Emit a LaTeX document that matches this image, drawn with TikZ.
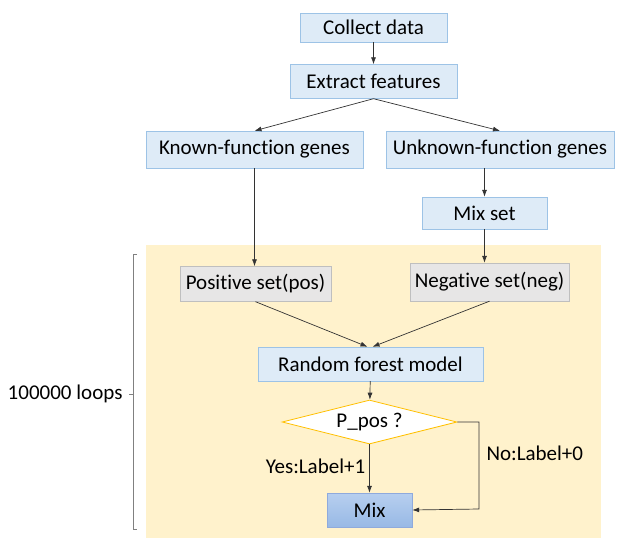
\documentclass[tikz,border=0pt]{standalone}
\usepackage{fontspec}
\setmainfont{Carlito}[Ligatures=NoCommon]
\usetikzlibrary{shapes.geometric,arrows.meta}

\definecolor{boxblue}{HTML}{DEEBF7}
\definecolor{lineblue}{HTML}{9DC3E6}
\definecolor{boxgray}{HTML}{E7E6E6}
\definecolor{linegray}{HTML}{BFBFBF}
\definecolor{loopbg}{HTML}{FFF2CC}
\definecolor{condline}{HTML}{FFC000}
\definecolor{mixtop}{HTML}{B7CFEF}
\definecolor{mixbot}{HTML}{98B9E5}
\definecolor{mixline}{HTML}{8FAADC}

\begin{document}
\begin{tikzpicture}[x=1pt,y=-1pt,
    font=\fontsize{21}{25}\selectfont,
    stepbox/.style={draw=lineblue,fill=boxblue,inner sep=0pt,minimum height=34pt},
    setbox/.style={draw=linegray,fill=boxgray,inner sep=0pt,minimum height=35pt},
    flow/.style={draw=black!80,line width=0.7pt,-{Latex[length=7pt,width=5pt]}}]
    \useasboundingbox (0,0) rectangle (620,540);

    % loop area and bracket
    \fill[loopbg] (146,245) rectangle (601,538);
    \draw[gray,line width=0.9pt] (137,254) -- (133,254) -- (133,529) -- (137,529);
    \draw[gray,line width=0.9pt] (133,394) -- (129,394);
    \node[anchor=east] (loops) at (126,394) {100000 loops};

    \node[stepbox,minimum width=147pt,minimum height=29pt] (collect) at (373.5,27.5) {Collect data};
    \node[stepbox,minimum width=167pt] (extract) at (373.5,81.5) {Extract features};
    \node[stepbox,minimum width=217pt,minimum height=37pt] (known) at (254.5,149.5) {Known-function genes};
    \node[stepbox,minimum width=228pt,minimum height=37pt] (unknown) at (500,149.5) {Unknown-function genes};
    \node[stepbox,minimum width=125pt,minimum height=32pt] (mixset) at (484.5,213) {Mix set};
    \node[setbox,minimum width=151pt] (pos) at (255.5,284) {Positive set(pos)};
    \node[setbox,minimum width=159pt,minimum height=38pt] (neg) at (489.5,282) {Negative set(neg)};
    \node[stepbox,minimum width=225pt] (forest) at (370.5,364) {Random forest model};
    \node[diamond,draw=condline,line width=0.8pt,fill=white,aspect=4,inner sep=0pt,
          minimum width=175pt,minimum height=44pt] (ppos) at (369.5,422) {P\_pos ?};
    \node[draw=mixline,top color=mixtop,bottom color=mixbot,inner sep=0pt,
          minimum width=85pt,minimum height=34pt] (mix) at (369.5,510) {Mix};

    \draw[flow] (collect) -- (extract);
    \draw[flow] (extract.south) -- (known.north);
    \draw[flow] (extract.south) -- (unknown.north);
    \draw[flow] (mixset.north |- unknown.south) -- (mixset.north);
    \draw[flow] (known.south) -- (known.south |- pos.north);
    \draw[flow] (mixset.south) -- (mixset.south |- neg.north);
    \draw[flow] (pos.south) -- ([xshift=-3pt]forest.north);
    \draw[flow] (neg.south) -- ([xshift=2pt]forest.north);
    \draw[flow] (forest) -- (ppos);
    \draw[flow] (ppos) -- node[pos=0.45,anchor=east,inner sep=4pt] (yes) {Yes:Label+1} (mix);
    \draw[flow] (ppos.east) -- (479,422) -- (479,509) -- (mix.east);
    \node[anchor=west] (no) at (483,453) {No:Label+0};
\end{tikzpicture}
\end{document}
